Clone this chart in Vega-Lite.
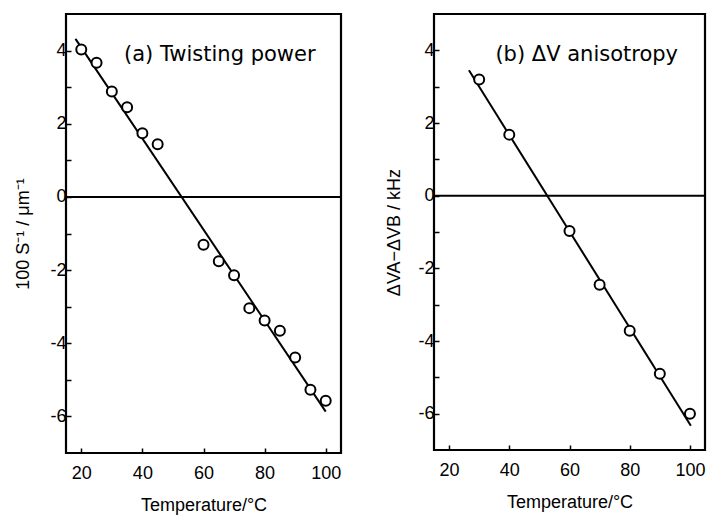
{
  "$schema": "https://vega.github.io/schema/vega-lite/v6.json",
  "background": "white",
  "padding": {"left": 13, "right": 0, "top": 12, "bottom": 0},
  "spacing": 40,
  "datasets": {
    "zero": [{"v": 0}],
    "a_pts": [
      {"t": 20, "v": 4.03}, {"t": 25, "v": 3.67}, {"t": 30, "v": 2.88}, {"t": 35, "v": 2.45},
      {"t": 40, "v": 1.74}, {"t": 45, "v": 1.44}, {"t": 60, "v": -1.31}, {"t": 65, "v": -1.76},
      {"t": 70, "v": -2.14}, {"t": 75, "v": -3.04}, {"t": 80, "v": -3.38}, {"t": 85, "v": -3.66},
      {"t": 90, "v": -4.39}, {"t": 95, "v": -5.27}, {"t": 100, "v": -5.57}
    ],
    "a_line": [{"t": 18.1, "v": 4.32}, {"t": 100, "v": -5.87}],
    "a_lab": [{"t": 34, "v": 3.88, "label": "(a) Twisting power"}],
    "b_pts": [
      {"t": 30, "v": 3.2}, {"t": 40, "v": 1.68}, {"t": 60, "v": -0.97}, {"t": 70, "v": -2.45},
      {"t": 80, "v": -3.72}, {"t": 90, "v": -4.9}, {"t": 100, "v": -6.0}
    ],
    "b_line": [{"t": 26.6, "v": 3.45}, {"t": 100.3, "v": -6.33}],
    "b_lab": [{"t": 35.4, "v": 3.87, "label": "(b) ΔV anisotropy"}]
  },
  "config": {
    "font": "Liberation Sans",
    "view": {"stroke": "black", "strokeWidth": 2.2},
    "axis": {
      "grid": false, "domain": false, "tickColor": "black", "tickWidth": 1.5, "tickSize": -5,
      "labelColor": "black", "labelFontSize": 18, "labelFont": "Liberation Sans",
      "titleColor": "black", "titleFontSize": 18, "titleFont": "Liberation Sans", "titleFontWeight": "normal"
    }
  },
  "hconcat": [
    {
      "width": 275, "height": 439,
      "layer": [
        {"data": {"name": "zero"}, "mark": {"type": "rule", "color": "black", "strokeWidth": 2}, "encoding": {"y": {"field": "v", "type": "quantitative"}}},
        {"data": {"name": "a_line"}, "mark": {"type": "line", "color": "black", "strokeWidth": 2},
         "encoding": {
           "x": {"field": "t", "type": "quantitative", "scale": {"domain": [15, 105], "nice": false, "zero": false},
                 "axis": {"values": [20, 40, 60, 80, 100], "title": "Temperature/°C", "labelPadding": 16, "titlePadding": 14}},
           "y": {"field": "v", "type": "quantitative", "scale": {"domain": [-7, 5], "nice": false},
                 "axis": {"values": [-6, -5, -4, -3, -2, -1, 0, 1, 2, 3, 4], "labelExpr": "datum.value % 2 === 0 ? '' + datum.value : ''", "title": "100 S⁻¹ / μm⁻¹", "labelPadding": 5, "titlePadding": 17}}
         }},
        {"data": {"name": "a_pts"}, "mark": {"type": "point", "shape": "circle", "filled": true, "fill": "white", "stroke": "black", "strokeWidth": 2, "size": 100, "opacity": 1},
         "encoding": {"x": {"field": "t", "type": "quantitative"}, "y": {"field": "v", "type": "quantitative"}}},
        {"data": {"name": "a_lab"}, "mark": {"type": "text", "align": "left", "baseline": "middle", "fontSize": 21, "font": "DejaVu Sans", "color": "black"},
         "encoding": {"x": {"field": "t", "type": "quantitative"}, "y": {"field": "v", "type": "quantitative"}, "text": {"field": "label"}}}
      ]
    },
    {
      "width": 271, "height": 436,
      "layer": [
        {"data": {"name": "zero"}, "mark": {"type": "rule", "color": "black", "strokeWidth": 2}, "encoding": {"y": {"field": "v", "type": "quantitative"}}},
        {"data": {"name": "b_line"}, "mark": {"type": "line", "color": "black", "strokeWidth": 2},
         "encoding": {
           "x": {"field": "t", "type": "quantitative", "scale": {"domain": [15, 105], "nice": false, "zero": false},
                 "axis": {"values": [20, 40, 60, 80, 100], "title": "Temperature/°C", "labelPadding": 16, "titlePadding": 14}},
           "y": {"field": "v", "type": "quantitative", "scale": {"domain": [-7, 5], "nice": false},
                 "axis": {"values": [-6, -5, -4, -3, -2, -1, 0, 1, 2, 3, 4], "labelExpr": "datum.value % 2 === 0 ? '' + datum.value : ''", "title": "ΔVA−ΔVB / kHz", "labelPadding": 5, "titlePadding": 14}}
         }},
        {"data": {"name": "b_pts"}, "mark": {"type": "point", "shape": "circle", "filled": true, "fill": "white", "stroke": "black", "strokeWidth": 2, "size": 100, "opacity": 1},
         "encoding": {"x": {"field": "t", "type": "quantitative"}, "y": {"field": "v", "type": "quantitative"}}},
        {"data": {"name": "b_lab"}, "mark": {"type": "text", "align": "left", "baseline": "middle", "fontSize": 21, "font": "DejaVu Sans", "color": "black"},
         "encoding": {"x": {"field": "t", "type": "quantitative"}, "y": {"field": "v", "type": "quantitative"}, "text": {"field": "label"}}}
      ]
    }
  ]
}
